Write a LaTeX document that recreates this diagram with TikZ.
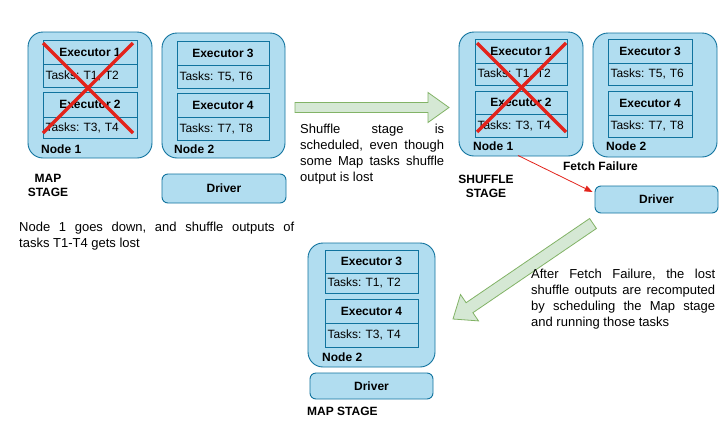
\documentclass[tikz,border=0pt]{standalone}
\usepackage{fontspec}
\setmainfont{Liberation Sans}
\usetikzlibrary{arrows.meta,calc}
\frenchspacing
\definecolor{bfill}{HTML}{B1DDF0}
\definecolor{bstroke}{HTML}{10739E}
\definecolor{gfill}{HTML}{D5E8D4}
\definecolor{gstroke}{HTML}{82B366}
\definecolor{xred}{HTML}{E3231B}
\tikzset{
 panel/.style={draw=bstroke, fill=bfill, line width=0.9pt, rounded corners=15pt},
 drvbox/.style={draw=bstroke, fill=bfill, line width=0.9pt, rounded corners=6pt, inner sep=0pt, font=\fontsize{12}{14}\selectfont\bfseries},
 exhead/.style={draw=bstroke, fill=bfill, line width=0.8pt, inner sep=0pt, font=\fontsize{12}{14}\selectfont\bfseries},
 extask/.style={draw=bstroke, fill=bfill, line width=0.8pt, inner xsep=2.5pt, inner ysep=0pt, align=left, font=\fontsize{12}{14}\selectfont},
 lbl/.style={inner sep=0pt, font=\fontsize{12}{14.4}\selectfont\bfseries},
 para/.style={inner sep=0pt, anchor=north west, align=left, font=\fontsize{13}{16}\selectfont},
 bigarrow/.style={draw=gstroke, fill=gfill, line width=0.8pt},
 cross/.style={draw=xred, line width=3.5pt},
 fail/.style={draw=xred, line width=0.8pt, -{Triangle[length=8pt,width=6pt]}},
}
\newcommand\rbox[7]{%
 \pgfmathsetmacro\bxc{(#3+#5)/2}%
 \pgfmathsetmacro\byc{(#4+#6)/2}%
 \pgfmathsetmacro\bw{#5-#3}%
 \pgfmathsetmacro\bh{#6-#4}%
 \node[#1, minimum width=\bw pt, minimum height=\bh pt] (#2) at (\bxc,\byc) {#7};}
\newcommand\execbox[8]{%
 \rbox{exhead}{#1h}{#2}{#4}{#3}{#5}{#7}%
 \pgfmathsetmacro\tw{#3-#2-5}%
 \rbox{extask, text width=\tw pt}{#1t}{#2}{#5}{#3}{#6}{#8}}
\begin{document}
\begin{tikzpicture}[x=1pt,y=-1pt]
\useasboundingbox (0,0) rectangle (720,421);
\fill[white] (0,0) rectangle (720,421);
% ---- left: map stage
\rbox{panel}{ln1}{28}{32}{152}{158}{}
\execbox{le1}{43}{137}{40}{64}{87}{Executor 1}{Tasks: T1, T2}
\execbox{le2}{43}{137}{92}{117}{138}{Executor 2}{Tasks: T3, T4}
\node[lbl, anchor=west] (ln1l) at (41,149.3) {Node 1};
\draw[cross] (43,43) -- (133,133);
\draw[cross] (133,43) -- (43,133);
\rbox{panel}{ln2}{162}{33}{285}{158}{}
\execbox{le3}{177}{269}{41}{65}{88}{Executor 3}{Tasks: T5, T6}
\execbox{le4}{177}{269}{93}{117}{140}{Executor 4}{Tasks: T7, T8}
\node[lbl, anchor=west] (ln2l) at (174,149.3) {Node 2};
\node[lbl, align=center] (lms) at (48,185.5) {MAP\\STAGE};
\rbox{drvbox}{ldrv}{162}{174}{286}{203}{Driver}
\node[para] (lpara) at (19,222) {\makebox[275pt][s]{Node 1 goes down, and shuffle outputs of}\\tasks T1-T4 gets lost};
% ---- arrow 1
\draw[bigarrow] (295,102.5) -- (428,102.5) -- (428,92.5) -- (449,107.5) -- (428,122.5) -- (428,112.5) -- (295,112.5) -- cycle;
\node[para] (spara) at (300,123.5) {\makebox[144pt][s]{Shuffle stage is}\\\makebox[144pt][s]{scheduled, even though}\\\makebox[144pt][s]{some Map tasks shuffle}\\output is lost};
% ---- right: shuffle stage
\rbox{panel}{rn1}{459}{32}{583}{156}{}
\execbox{re1}{475}{567}{39}{63}{85}{Executor 1}{Tasks: T1, T2}
\execbox{re2}{475}{567}{91}{114}{137}{Executor 2}{Tasks: T3, T4}
\node[lbl, anchor=west] (rn1l) at (473,146.7) {Node 1};
\draw[cross] (477,43) -- (566,132);
\draw[cross] (566,43) -- (477,132);
\rbox{panel}{rn2}{593}{33}{717}{157}{}
\execbox{re3}{608}{692}{39}{63}{85}{Executor 3}{Tasks: T5, T6}
\execbox{re4}{608}{692}{91}{115}{137}{Executor 4}{Tasks: T7, T8}
\node[lbl, anchor=west] (rn2l) at (606,146.7) {Node 2};
\node[lbl] (ff) at (600.5,166) {Fetch Failure};
\node[lbl, align=center] (sst) at (486,186.6) {SHUFFLE\\STAGE};
\rbox{drvbox}{rdrv}{595}{186}{718}{213}{Driver}
\draw[fail] ($(rn1.south)+(-3,-1)$) -- ($(rdrv.west)+(-2,-7.5)$);
% ---- arrow 2
\draw[bigarrow] (589.6,218.5) -- (466.1,302.7) -- (460.5,294.5) -- (453,319) -- (478.5,320.9) -- (472.9,312.7) -- (596.4,228.5) -- cycle;
\node[para] (apara) at (531,269.3) {\makebox[184pt][s]{After Fetch Failure, the lost}\\\makebox[184pt][s]{shuffle outputs are recomputed}\\\makebox[184pt][s]{by scheduling the Map stage}\\and running those tasks};
% ---- bottom: map stage again
\rbox{panel}{bn2}{308}{243}{435}{367}{}
\execbox{be3}{325}{418}{250}{273}{293}{Executor 3}{Tasks: T1, T2}
\execbox{be4}{325}{418}{299}{323}{347}{Executor 4}{Tasks: T3, T4}
\node[lbl, anchor=west] (bn2l) at (322,357.3) {Node 2};
\rbox{drvbox}{bdrv}{310}{373}{433}{399}{Driver}
\node[lbl, anchor=west] (bms) at (307,411) {MAP STAGE};
\end{tikzpicture}
\end{document}
